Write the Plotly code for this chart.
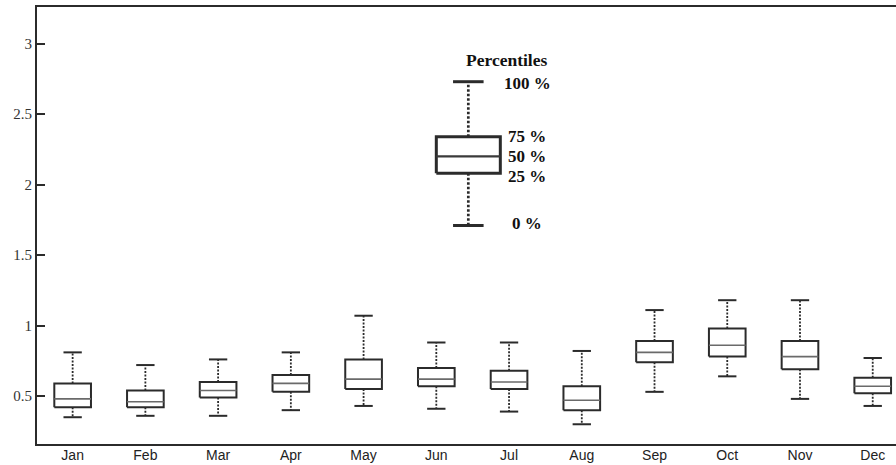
import plotly.graph_objects as go

# Monthly distribution summaries (percentiles 0, 25, 50, 75, 100)
months = ["Jan", "Feb", "Mar", "Apr", "May", "Jun",
          "Jul", "Aug", "Sep", "Oct", "Nov", "Dec"]
p0 = [0.35, 0.36, 0.36, 0.40, 0.43, 0.41, 0.39, 0.30, 0.53, 0.64, 0.48, 0.43]
p25 = [0.42, 0.42, 0.49, 0.53, 0.55, 0.57, 0.55, 0.40, 0.74, 0.78, 0.69, 0.52]
p50 = [0.48, 0.46, 0.54, 0.59, 0.62, 0.62, 0.60, 0.47, 0.81, 0.86, 0.78, 0.57]
p75 = [0.59, 0.54, 0.60, 0.65, 0.76, 0.70, 0.68, 0.57, 0.89, 0.98, 0.89, 0.63]
p100 = [0.81, 0.72, 0.76, 0.81, 1.07, 0.88, 0.88, 0.82, 1.11, 1.18, 1.18, 0.77]

# Key box explaining the percentile levels
key_stats = [1.71, 2.08, 2.20, 2.34, 2.73]
key_labels = ["0 %", "25 %", "50 %", "75 %", "100 %"]
key_title = "Percentiles"
key_pos = 5.44

yticks = [0.5, 1, 1.5, 2, 2.5, 3]
ytick_text = ["0.5", "1", "1.5", "2", "2.5", "3"]

DARK = "#2b2b2b"


def box_traces(xs, lo, q1, med, q3, hi, half, cap, lw, med_color, med_w, dash):
    bx, by, mx, my, wx, wy, cx, cy = [], [], [], [], [], [], [], []
    for x, a, b, c, d, e in zip(xs, lo, q1, med, q3, hi):
        bx += [x - half, x + half, x + half, x - half, x - half, None]
        by += [b, b, d, d, b, None]
        mx += [x - half, x + half, None]
        my += [c, c, None]
        wx += [x, x, None, x, x, None]
        wy += [d, e, None, b, a, None]
        cx += [x - cap, x + cap, None, x - cap, x + cap, None]
        cy += [e, e, None, a, a, None]
    common = dict(mode="lines", showlegend=False, hoverinfo="skip")
    return [
        go.Scatter(x=wx, y=wy, line=dict(color=DARK, width=lw * 0.9, dash=dash), **common),
        go.Scatter(x=cx, y=cy, line=dict(color=DARK, width=lw), **common),
        go.Scatter(x=bx, y=by, fill="toself", fillcolor="white",
                   line=dict(color=DARK, width=lw), **common),
        go.Scatter(x=mx, y=my, line=dict(color=med_color, width=med_w), **common),
    ]


fig = go.Figure()
idx = list(range(len(months)))
for tr in box_traces(idx, p0, p25, p50, p75, p100, 0.252, 0.126, 2,
                     "#6a6a6a", 1.6, "2px,1.5px"):
    fig.add_trace(tr)

for tr in box_traces([key_pos], [key_stats[0]], [key_stats[1]], [key_stats[2]],
                     [key_stats[3]], [key_stats[4]], 0.44, 0.21, 3,
                     "#3a3a3a", 2.2, "2.5px,2px"):
    fig.add_trace(tr)

label_font = dict(family="Liberation Serif, Times New Roman, serif", size=17, color="#111")
label_offsets = [0.015, -0.025, 0.0, 0.0, -0.015]
for val, txt, off in zip(key_stats, key_labels, label_offsets):
    fig.add_annotation(x=6.25, y=val + off, text="<b>%s</b>" % txt, showarrow=False,
                       xanchor="center", yanchor="middle", font=label_font)
fig.add_annotation(x=5.97, y=2.886, text="<b>%s</b>" % key_title, showarrow=False,
                   xanchor="center", yanchor="middle",
                   font=dict(label_font, size=17.5))

fig.update_layout(
    width=896, height=465,
    margin=dict(l=37, r=0, t=7, b=21),
    paper_bgcolor="white", plot_bgcolor="white",
    xaxis=dict(
        range=[-0.49, 11.32],
        tickvals=idx, ticktext=months,
        showline=True, linecolor=DARK, linewidth=2, mirror=True,
        ticks="", showgrid=False, zeroline=False, ticklabelstandoff=-3,
        tickfont=dict(family="Liberation Sans, Arial, sans-serif", size=14, color="#222"),
    ),
    yaxis=dict(
        range=[0.16, 3.26],
        tickvals=yticks, ticktext=ytick_text,
        showline=True, linecolor=DARK, linewidth=2, mirror=False,
        ticks="inside", ticklen=8, tickwidth=2, tickcolor=DARK,
        showgrid=False, zeroline=False,
        tickfont=dict(family="Liberation Serif, Times New Roman, serif", size=15, color="#333"),
    ),
)

fig.write_html("out.html")
